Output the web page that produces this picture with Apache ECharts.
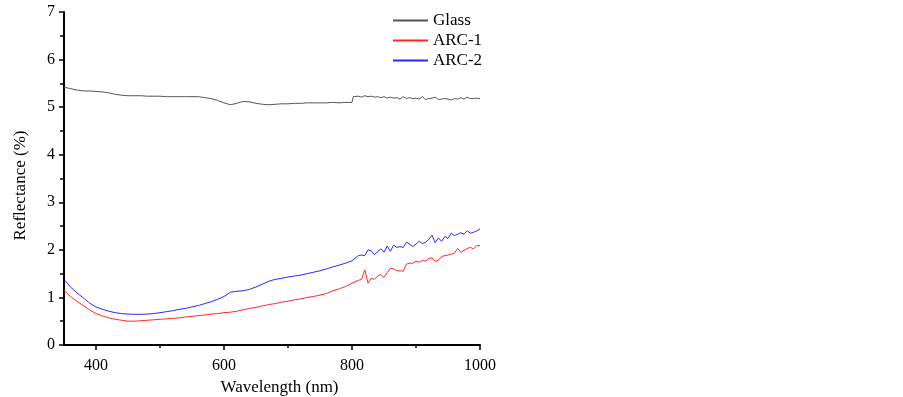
<!DOCTYPE html>
<html>
<head>
<meta charset="utf-8">
<script src="https://cdn.jsdelivr.net/npm/echarts@6/dist/echarts.min.js"></script>
<style>
  html, body { margin: 0; padding: 0; background: #fff; }
  #chart { width: 903px; height: 397px; }
</style>
</head>
<body>
<div id="chart"></div>
<script>
// 波长 (nm)
const wavelength = [
  350, 360, 370, 380, 390, 400, 410, 420, 430, 440, 450, 460, 470, 480, 490,
  500, 510, 520, 530, 540, 550, 560, 570, 580, 590, 600, 610, 620, 630, 640,
  650, 660, 670, 680, 690, 700, 710, 720, 730, 740, 750, 760, 770, 780, 790,
  800, 802, 810, 815, 820, 825, 830, 835, 840, 845, 850, 855, 860, 865, 870,
  875, 880, 885, 890, 895, 900, 905, 910, 915, 920, 925, 930, 935, 940, 945,
  950, 955, 960, 965, 970, 975, 980, 985, 990, 995, 1000
]
const glass = [
  5.42, 5.39, 5.36, 5.34, 5.34, 5.33, 5.32, 5.30, 5.27, 5.25, 5.24, 5.24, 5.24, 5.23, 5.23,
  5.23, 5.22, 5.22, 5.22, 5.22, 5.22, 5.22, 5.20, 5.18, 5.14, 5.09, 5.05, 5.08, 5.12, 5.11,
  5.08, 5.06, 5.05, 5.06, 5.07, 5.07, 5.08, 5.08, 5.09, 5.09, 5.09, 5.09, 5.10, 5.09, 5.10,
  5.10, 5.22, 5.23, 5.21, 5.24, 5.22, 5.23, 5.21, 5.22, 5.20, 5.22, 5.19, 5.21, 5.19, 5.20,
  5.17, 5.22, 5.18, 5.20, 5.18, 5.19, 5.17, 5.22, 5.16, 5.18, 5.19, 5.21, 5.16, 5.17, 5.18,
  5.17, 5.15, 5.18, 5.17, 5.20, 5.17, 5.21, 5.18, 5.18, 5.19, 5.18
]
const arc1 = [
  1.15, 1.02, 0.92, 0.83, 0.74, 0.66, 0.61, 0.57, 0.54, 0.52, 0.50, 0.50, 0.51, 0.52, 0.53,
  0.54, 0.55, 0.56, 0.57, 0.59, 0.60, 0.62, 0.63, 0.65, 0.66, 0.68, 0.69, 0.71, 0.74, 0.77,
  0.79, 0.82, 0.85, 0.87, 0.90, 0.92, 0.95, 0.97, 1.00, 1.02, 1.05, 1.08, 1.14, 1.18, 1.23,
  1.30, 1.33, 1.36, 1.38, 1.58, 1.30, 1.40, 1.38, 1.45, 1.48, 1.42, 1.52, 1.61, 1.60, 1.56,
  1.56, 1.55, 1.70, 1.72, 1.72, 1.76, 1.74, 1.78, 1.76, 1.82, 1.83, 1.76, 1.78, 1.86, 1.88,
  1.89, 1.91, 1.93, 2.03, 1.95, 1.99, 2.03, 2.05, 2.02, 2.09, 2.09
]
const arc2 = [
  1.38, 1.22, 1.10, 0.99, 0.88, 0.80, 0.75, 0.71, 0.68, 0.66, 0.65, 0.645, 0.645, 0.65, 0.66,
  0.68, 0.70, 0.72, 0.75, 0.77, 0.80, 0.83, 0.87, 0.91, 0.96, 1.02, 1.11, 1.13, 1.14, 1.17,
  1.22, 1.28, 1.34, 1.38, 1.40, 1.43, 1.45, 1.47, 1.50, 1.53, 1.56, 1.60, 1.64, 1.68, 1.72,
  1.77, 1.80, 1.88, 1.89, 1.88, 2.00, 1.98, 1.90, 1.96, 2.02, 1.95, 2.08, 1.97, 2.10, 2.05,
  2.07, 2.05, 2.16, 2.12, 2.07, 2.12, 2.18, 2.13, 2.16, 2.22, 2.31, 2.15, 2.25, 2.18, 2.28,
  2.24, 2.35, 2.30, 2.33, 2.36, 2.33, 2.40, 2.35, 2.37, 2.40, 2.44
]
const xMajorTicks = [400, 600, 800, 1000]
const xMinorTicks = [500, 700, 900]

const font = 'Liberation Serif'
const names = ['Glass', 'ARC-1', 'ARC-2']
const colors = ['#555555', '#ff2828', '#2828ff']
const pairs = arr => wavelength.map((w, i) => [w, arr[i]])

const chart = echarts.init(document.getElementById('chart'))
const option = {
  animation: false,
  backgroundColor: '#fff',
  grid: { left: 64, top: 12, width: 416, height: 333, containLabel: false, outerBoundsMode: 'none' },
  legend: {
    orient: 'vertical',
    left: 393,
    top: 12,
    padding: 0,
    icon: 'rect',
    itemWidth: 35,
    itemHeight: 2,
    itemGap: 3,
    textStyle: { fontFamily: font, fontSize: 17, color: '#000' },
    data: names
  },
  xAxis: [
    {
      type: 'value',
      min: 350,
      max: 1000,
      name: 'Wavelength (nm)',
      nameLocation: 'middle',
      nameGap: 34,
      nameTextStyle: { fontFamily: font, fontSize: 17, color: '#000', padding: [0, 0, 0, 15] },
      axisLine: { lineStyle: { color: '#000', width: 2 } },
      axisTick: { customValues: xMajorTicks, length: 5, lineStyle: { color: '#000', width: 1.5 } },
      axisLabel: {
        customValues: xMajorTicks, margin: 13, fontFamily: font, fontSize: 16, color: '#000',
        formatter: v => String(v)
      },
      splitLine: { show: false }
    },
    {
      type: 'value',
      min: 350,
      max: 1000,
      position: 'bottom',
      axisLine: { show: false },
      axisTick: { customValues: xMinorTicks, length: 3, lineStyle: { color: '#000', width: 1.5 } },
      axisLabel: { show: false },
      splitLine: { show: false }
    }
  ],
  yAxis: {
    type: 'value',
    min: 0,
    max: 7,
    interval: 1,
    name: 'Reflectance (%)',
    nameLocation: 'middle',
    nameGap: 35,
    nameTextStyle: { fontFamily: font, fontSize: 17, color: '#000', padding: [0, 0, 0, -14] },
    axisLine: { show: true, lineStyle: { color: '#000', width: 2 } },
    axisTick: { show: true, length: 5, lineStyle: { color: '#000', width: 1.5 } },
    minorTick: { show: true, splitNumber: 2, length: 4, lineStyle: { color: '#000', width: 1.5 } },
    axisLabel: { margin: 9, fontFamily: font, fontSize: 16, color: '#000' },
    splitLine: { show: false }
  },
  series: [glass, arc1, arc2].map((arr, i) => ({
    name: names[i],
    type: 'line',
    symbol: 'none',
    data: pairs(arr),
    lineStyle: { color: colors[i], width: 1 },
    itemStyle: { color: colors[i] }
  }))
}
chart.setOption(option)
</script>
</body>
</html>
